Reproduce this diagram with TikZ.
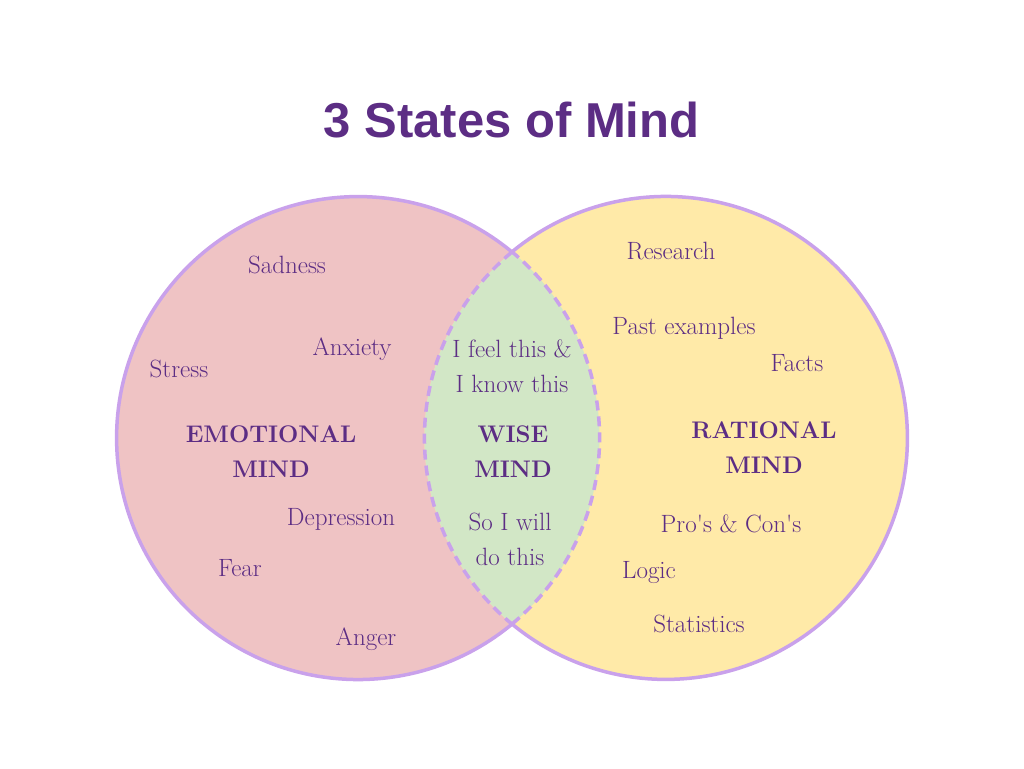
\documentclass[tikz,border=0pt]{standalone}
\usepackage{fontspec}
\newfontfamily\titlefont{Liberation Sans}
\definecolor{pinkf}{HTML}{EFC3C4}
\definecolor{yellowf}{HTML}{FFEAA8}
\definecolor{greenf}{HTML}{D2E7C6}
\definecolor{strokec}{HTML}{C9A1EB}
\definecolor{textc}{HTML}{5C2D84}
\begin{document}
\begin{tikzpicture}[x=1pt,y=1pt,
  lbl/.style={text=textc,font=\fontsize{25}{29}\selectfont,inner sep=0pt,anchor=center},
  head/.style={text=textc,font=\fontsize{24}{35}\selectfont\bfseries,align=center,inner sep=0pt},
  mid/.style={text=textc,font=\fontsize{25}{35}\selectfont,align=center,inner sep=0pt},
  outline/.style={draw=strokec,line width=3.5pt},
  dashline/.style={draw=strokec,line width=3.5pt,dash pattern=on 10pt off 6pt}]
\useasboundingbox (0,0) rectangle (1024,768);
\fill[white] (0,0) rectangle (1024,768);
% circles
\coordinate (cl) at (358,330);
\coordinate (cr) at (666,330);
\fill[pinkf] (cl) circle (241.5);
\fill[yellowf] (cr) circle (241.5);
\fill[greenf] (512,144) arc (-50.4:50.4:241.5) arc (129.6:230.4:241.5) -- cycle;
% outer solid arcs
\draw[outline] (512,516) arc (50.4:309.6:241.5);
\draw[outline] (512,144) arc (-129.6:129.6:241.5);
% inner dashed arcs
\draw[dashline] (512,144) arc (-50.4:50.4:241.5);
\draw[dashline] (512,516) arc (129.6:230.4:241.5);
% title
\node[text=textc,font=\titlefont\fontsize{49}{60}\selectfont\bfseries,inner sep=0pt] (title) at (511.5,648) {3 States of Mind};
% emotional
\node[lbl] (sad) at (287,503) {Sadness};
\node[lbl] (anx) at (352,419) {Anxiety};
\node[lbl] (str) at (179,399) {Stress};
\node[head] (emo) at (271,316) {EMOTIONAL\\MIND};
\node[lbl] (dep) at (341,249) {Depression};
\node[lbl] (fear) at (240,200) {Fear};
\node[lbl] (ang) at (366,129) {Anger};
% wise
\node[mid] (feel) at (512,402) {I feel this \&\\ I know this};
\node[head] (wise) at (513,316) {WISE\\MIND};
\node[mid] (will) at (510,229) {So I will\\do this};
% rational
\node[lbl] (res) at (671,517) {Research};
\node[lbl] (past) at (684,440) {Past examples};
\node[lbl] (facts) at (797,405) {Facts};
\node[head] (rat) at (764,320) {RATIONAL\\MIND};
\node[lbl] (pro) at (731,244) {Pro\textquotesingle s \& Con\textquotesingle s};
\node[lbl] (logic) at (649,195) {Logic};
\node[lbl] (stat) at (699,144) {Statistics};
\end{tikzpicture}
\end{document}
